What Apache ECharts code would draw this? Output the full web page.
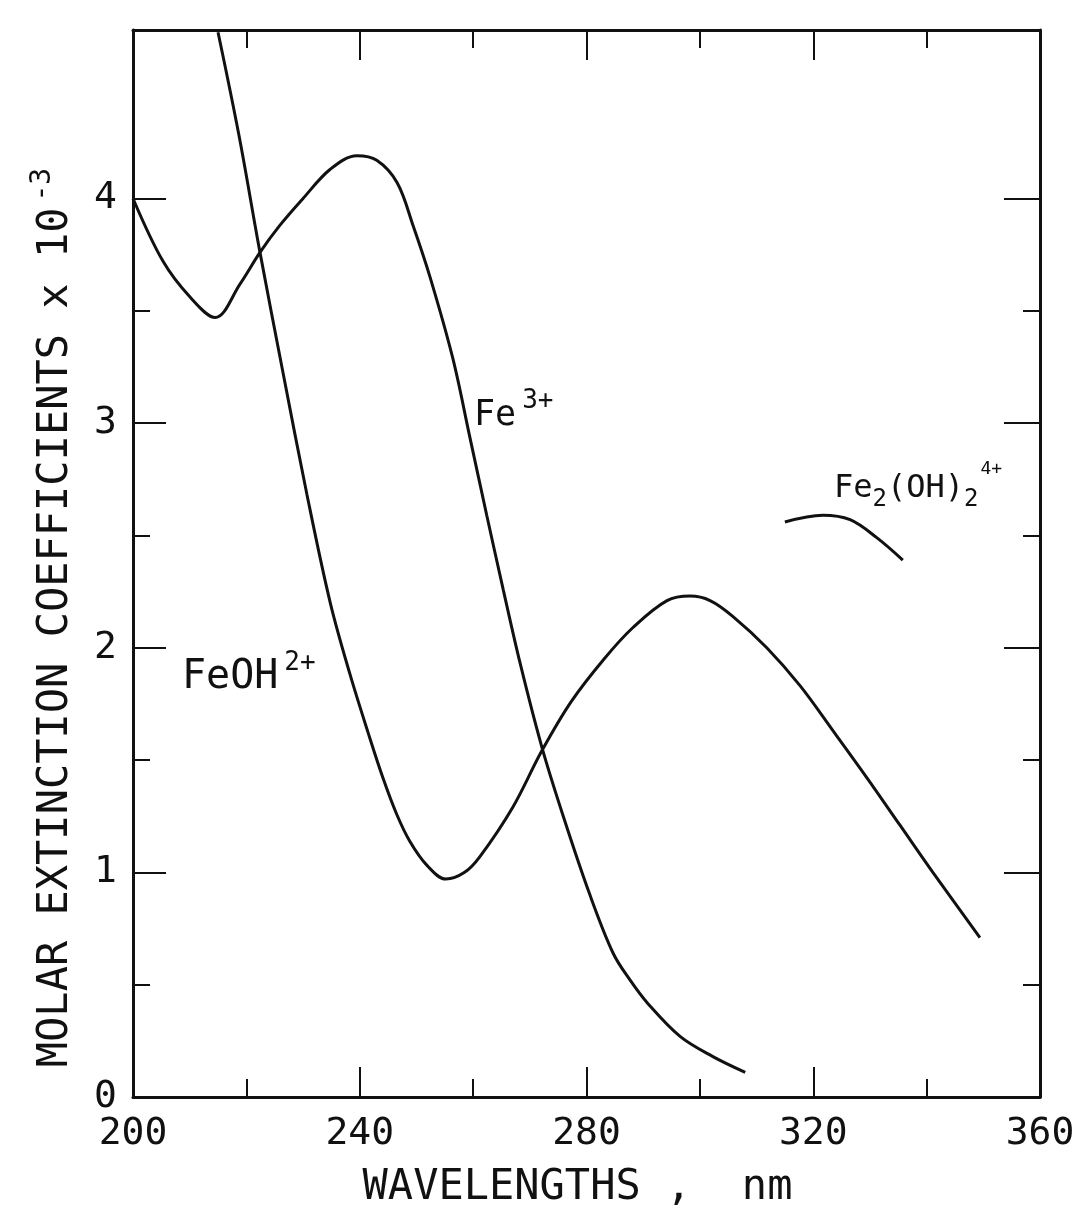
<!DOCTYPE html>
<html>
<head>
<meta charset="utf-8">
<script src="https://cdn.jsdelivr.net/npm/echarts@6/dist/echarts.min.js"></script>
<style>
html, body { margin: 0; padding: 0; background: #fff; }
#chart { width: 1079px; height: 1207px; }
</style>
</head>
<body>
<div id="chart"></div>
<script>
// wavelengths (nm) and molar extinction coefficients x 10^-3
const fe3Wave = [200, 205.3, 210.1, 214.5, 218.9, 222.4, 225.9, 230.0, 234.8, 239.5, 243.0, 246.6, 249.4, 252.4, 256.4, 259.4, 262.4, 265.3, 268.3, 272.1, 275.9, 280.6, 284.7, 287.7, 290.7, 296.5, 302.3, 308.0];
const fe3Eps  = [4.0, 3.72, 3.56, 3.47, 3.62, 3.76, 3.88, 4.00, 4.13, 4.19, 4.17, 4.07, 3.88, 3.65, 3.29, 2.94, 2.59, 2.26, 1.93, 1.56, 1.25, 0.90, 0.64, 0.52, 0.42, 0.27, 0.18, 0.11];

const feohWave = [215.0, 218.7, 222.4, 226.5, 230.7, 234.8, 238.3, 241.5, 244.1, 246.5, 248.8, 251.9, 255.2, 258.5, 261.2, 267.0, 272.1, 277.3, 283.1, 288.2, 294.2, 298.3, 301.8, 305.8, 311.8, 317.7, 323.5, 329.5, 335.3, 341.1, 349.4];
const feohEps  = [4.74, 4.28, 3.76, 3.22, 2.68, 2.20, 1.88, 1.62, 1.42, 1.26, 1.14, 1.03, 0.97, 1.00, 1.07, 1.29, 1.54, 1.76, 1.95, 2.09, 2.21, 2.23, 2.21, 2.14, 2.00, 1.83, 1.63, 1.42, 1.21, 1.00, 0.71];

const dimerWave = [315.0, 321.7, 326.5, 331.2, 335.8];
const dimerEps  = [2.56, 2.59, 2.57, 2.49, 2.39];

const xTicks = [200, 240, 280, 320, 360];
const yTicks = [0, 1, 2, 3, 4];
const yHalfTicks = [0.5, 1.5, 2.5, 3.5];

const pair = (xs, ys) => xs.map((x, i) => [x, ys[i]]);

var myChart = echarts.init(document.getElementById('chart'));

const ink = '#111';
const font = 'DejaVu Sans Mono';

const xBase = {
    type: 'value',
    min: xTicks[0],
    max: xTicks[xTicks.length - 1],
    interval: 40,
    splitLine: { show: false },
    axisLine: { show: true, onZero: false, lineStyle: { color: ink, width: 3 } },
    axisTick: { show: true, inside: true, length: 30, lineStyle: { color: ink, width: 2 } },
    minorTick: { show: true, splitNumber: 2, length: 18, lineStyle: { color: ink, width: 2 } },
    minorSplitLine: { show: false }
};

function yAxis(position, ticks, len, withLine, withLabels) {
    return {
        type: 'value',
        position: position,
        min: 0,
        max: 4.75,
        splitLine: { show: false },
        axisLine: { show: withLine, onZero: false, lineStyle: { color: ink, width: 3 } },
        axisTick: { show: true, inside: true, length: len, customValues: ticks, lineStyle: { color: ink, width: 2 } },
        axisLabel: withLabels ? {
            show: true,
            customValues: ticks,
            color: ink,
            fontFamily: font,
            fontSize: 38,
            margin: 16
        } : { show: false }
    };
}

const lineStyle = { color: ink, width: 3 };

function curve(name, xs, ys) {
    return {
        name: name,
        type: 'line',
        data: pair(xs, ys),
        showSymbol: false,
        smooth: 0.35,
        clip: true,
        lineStyle: lineStyle
    };
}

myChart.setOption({
    backgroundColor: '#fff',
    animation: false,
    grid: {
        left: 133,
        right: 39,
        top: 30,
        bottom: 110,
        outerBoundsMode: 'none'
    },
    xAxis: [
        Object.assign({}, xBase, {
            position: 'bottom',
            axisLabel: {
                color: ink,
                fontFamily: font,
                fontSize: 38,
                margin: 18
            },
            name: 'WAVELENGTHS ,  nm',
            nameLocation: 'middle',
            nameGap: 70,
            nameTextStyle: { color: ink, fontFamily: font, fontSize: 42, padding: [0, 18, 0, 0] }
        }),
        Object.assign({}, xBase, {
            position: 'top',
            axisLabel: { show: false }
        })
    ],
    yAxis: [
        Object.assign(yAxis('left', yTicks, 33, true, true), {
            name: 'MOLAR EXTINCTION COEFFICIENTS x 10{sup|-3}',
            nameLocation: 'middle',
            nameGap: 50,
            nameTextStyle: {
                color: ink,
                fontFamily: font,
                fontSize: 42,
                padding: [0, 108, 0, 0],
                rich: {
                    sup: { fontFamily: font, fontSize: 28, color: ink, padding: [0, 0, 26, 6] }
                }
            }
        }),
        yAxis('right', yTicks, 36, true, false),
        yAxis('left', yHalfTicks, 17, false, false),
        yAxis('right', yHalfTicks, 17, false, false)
    ],
    series: [
        curve('Fe3+', fe3Wave, fe3Eps),
        curve('FeOH2+', feohWave, feohEps),
        curve('Fe2(OH)2 4+', dimerWave, dimerEps)
    ],
    graphic: [
        {
            type: 'text',
            left: 474,
            top: 388,
            style: {
                text: 'Fe{sup|3+}',
                fill: ink,
                font: '35px "DejaVu Sans Mono"',
                rich: { sup: { fontSize: 26, fontFamily: font, fill: ink, padding: [0, 0, 30, 6] } }
            }
        },
        {
            type: 'text',
            left: 182,
            top: 650,
            style: {
                text: 'FeOH{sup|2+}',
                fill: ink,
                font: '40px "DejaVu Sans Mono"',
                rich: { sup: { fontSize: 26, fontFamily: font, fill: ink, padding: [0, 0, 30, 6] } }
            }
        },
        {
            type: 'text',
            left: 834,
            top: 460,
            style: {
                text: 'Fe{sub|2}(OH){sub|2}{sup|4+}',
                fill: ink,
                font: '32px "DejaVu Sans Mono"',
                rich: {
                    sub: { fontSize: 24, fontFamily: font, fill: ink, padding: [22, 0, 0, 0] },
                    sup: { fontSize: 18, fontFamily: font, fill: ink, padding: [0, 0, 40, 2] }
                }
            }
        }
    ]
});
</script>
</body>
</html>
